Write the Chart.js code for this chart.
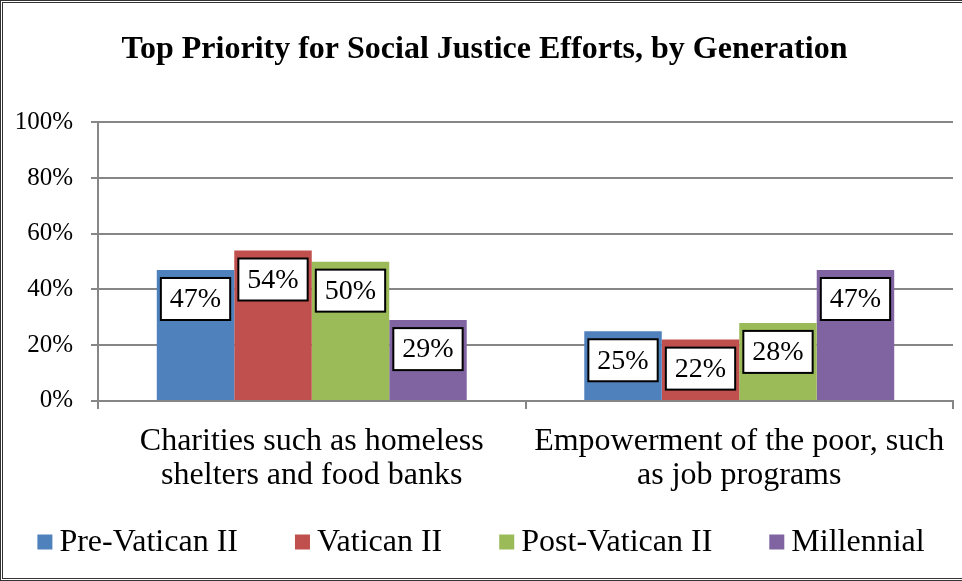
<!DOCTYPE html>
<html>
<head>
<meta charset="utf-8">
<script src="https://cdn.jsdelivr.net/npm/chart.js@4/dist/chart.umd.min.js"></script>
<style>
    html, body { margin: 0; padding: 0; background: #fff; }
    #wrap {
        width: 962px; height: 581px; box-sizing: border-box;
        border: 3px double #333; border-right: none; position: relative;
    }
</style>
</head>
<body>
<div id="wrap"><canvas id="chart"></canvas></div>
<script>
const categories = [
    ['Charities such as homeless', 'shelters and food banks'],
    ['Empowerment of the poor, such', 'as job programs']
];
const seriesNames = ['Pre-Vatican II', 'Vatican II', 'Post-Vatican II', 'Millennial'];
const preVatican = [47, 25];
const vatican = [54, 22];
const postVatican = [50, 28];
const millennial = [29, 47];
const colors = ['#4F81BD', '#C0504D', '#9BBB59', '#8064A2'];
const yTicks = [0, 20, 40, 60, 80, 100];

const serif = '"Liberation Serif", "Times New Roman", serif';

// white boxed value labels just inside the top of each bar
const boxLabels = {
    id: 'boxLabels',
    afterDatasetsDraw(chart) {
        const ctx = chart.ctx;
        ctx.save();
        ctx.font = '28px ' + serif;
        ctx.textAlign = 'center';
        ctx.textBaseline = 'middle';
        chart.data.datasets.forEach((ds, i) => {
            chart.getDatasetMeta(i).data.forEach((bar, j) => {
                const txt = ds.data[j] + '%';
                const w = ctx.measureText(txt).width + 18;
                const h = 42;
                const x = bar.x - w / 2;
                const y = bar.y + 8;
                ctx.fillStyle = '#fff';
                ctx.fillRect(x, y, w, h);
                ctx.lineWidth = 2;
                ctx.strokeStyle = '#000';
                ctx.strokeRect(x, y, w, h);
                ctx.fillStyle = '#000';
                ctx.fillText(txt, bar.x, y + h / 2 + 1);
            });
        });
        ctx.restore();
    }
};

// legend drawn by hand so the square sits close to its text like the original
const bottomLegend = {
    id: 'bottomLegend',
    afterDraw(chart) {
        const ctx = chart.ctx;
        const box = 15, gap = 7, spacing = 57;
        ctx.save();
        ctx.font = '32px ' + serif;
        ctx.textBaseline = 'middle';
        const items = chart.data.datasets.map(ds => ({
            text: ds.label, color: ds.backgroundColor, w: ctx.measureText(ds.label).width
        }));
        const total = items.reduce((s, it) => s + box + gap + it.w, 0) + spacing * (items.length - 1);
        let x = 478 - total / 2;
        const y = 539;
        items.forEach(it => {
            ctx.fillStyle = it.color;
            ctx.fillRect(x, y - box / 2, box, box);
            x += box + gap;
            ctx.fillStyle = '#000';
            ctx.fillText(it.text, x, y + 1);
            x += it.w + spacing;
        });
        ctx.restore();
    }
};

const data = {
    labels: categories,
    datasets: [preVatican, vatican, postVatican, millennial].map((vals, i) => ({
        label: seriesNames[i],
        data: vals,
        backgroundColor: colors[i],
        barPercentage: 1,
        categoryPercentage: 0.725
    }))
};

new Chart(document.getElementById('chart'), {
    type: 'bar',
    data: data,
    options: {
        responsive: true,
        maintainAspectRatio: false,
        animation: false,
        layout: { padding: { left: 13, right: 9, top: 10, bottom: 70 } },
        plugins: {
            title: {
                display: true,
                text: 'Top Priority for Social Justice Efforts, by Generation',
                color: '#000',
                font: { family: serif, size: 32, weight: 'bold' },
                padding: { top: 18, bottom: 53 }
            },
            legend: { display: false },
            tooltip: { enabled: false }
        },
        scales: {
            x: {
                grid: {
                    drawOnChartArea: false,
                    drawTicks: true,
                    tickLength: 8,
                    color: '#868686',
                    lineWidth: 2
                },
                border: { color: '#868686', width: 2 },
                ticks: {
                    color: '#000',
                    font: { family: serif, size: 32, lineHeight: 1.08 },
                    padding: 15,
                    maxRotation: 0
                }
            },
            y: {
                min: 0,
                max: 100,
                afterBuildTicks(axis) {
                    axis.ticks = yTicks.map(v => ({ value: v }));
                },
                afterFit(axis) {
                    axis.width = 82;
                },
                grid: { color: '#868686', lineWidth: 2, tickLength: 7 },
                border: { color: '#868686', width: 2 },
                ticks: {
                    color: '#000',
                    font: { family: serif, size: 25 },
                    padding: 18,
                    callback: v => v + '%'
                }
            }
        }
    },
    plugins: [boxLabels, bottomLegend]
});
</script>
</body>
</html>
